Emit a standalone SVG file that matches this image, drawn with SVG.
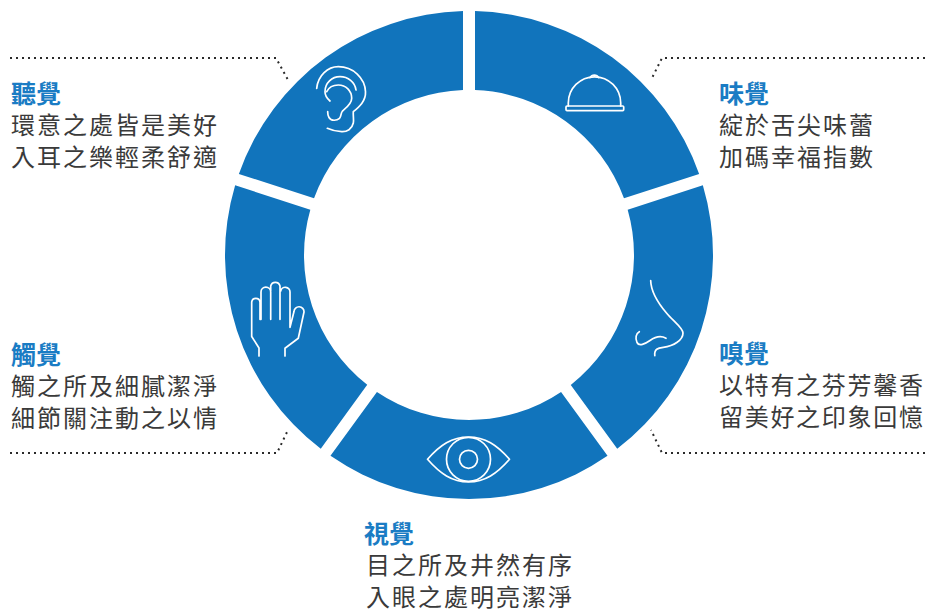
<svg xmlns="http://www.w3.org/2000/svg" width="925" height="613" viewBox="0 0 925 613">
<defs>
<path id="seg" d="M475 11.07A244 244 0 0 1 699.14 173.92L623.97 198.34A165 165 0 0 0 475 90.11Z"/>
</defs>
<style>
.seg{fill:#1174bc}
.ic{fill:none;stroke:#fff;stroke-width:1.7;stroke-linecap:round;stroke-linejoin:round}
.dot{fill:none;stroke:#2a2a2a;stroke-width:2;stroke-dasharray:2 4}
text{font-family:"Noto Sans CJK TC","Noto Sans",sans-serif}
.t{font-size:25px;font-weight:700;fill:#1a7cc4}
.b{font-size:24px;font-weight:400;fill:#3a3a3a;letter-spacing:2px}
.n{letter-spacing:1.7px}
</style>
<rect width="925" height="613" fill="#fff"/>
<g id="connectors">
<path class="dot" d="M10 58H276L288 80"/>
<path class="dot" d="M925 58H662L651 80"/>
<path class="dot" d="M10 453H277L288 430"/>
<path class="dot" d="M925 453H662L651 430"/>
</g>
<g id="taste">
<use href="#seg" class="seg"/>
<path class="ic" d="M568.3 106V103A26.2 26.2 0 0 1 620.7 103V106"/>
<rect class="ic" x="566" y="106" width="57.7" height="4.6" rx="1"/>
<path class="ic" d="M590 77.7A5 5 0 0 1 598.7 77.7"/>
<text class="t" x="719" y="102.500">味覺</text>
<text class="b" x="719" y="134">綻於舌尖味蕾</text>
<text class="b" x="719" y="166">加碼幸福指數</text>
</g>
<g id="smell">
<use href="#seg" class="seg" transform="rotate(72 469 255)"/>
<path class="ic" d="M650.7 280.7C651 292 658 303 666.7 313.3C673 321 683 328 683 333C683 340 674 346 663.3 347.3C658 348 654 349 654.8 355.7"/>
<path class="ic" d="M666 338.3C661 335.5 655 337 650 340.5C645 344 639 346.5 637 342.5C635 338 636 333.5 639.3 331.7"/>
<text class="t" x="719" y="362.500">嗅覺</text>
<text class="b n" x="719" y="394">以特有之芬芳馨香</text>
<text class="b n" x="719" y="426">留美好之印象回憶</text>
</g>
<g id="sight">
<use href="#seg" class="seg" transform="rotate(144 469 255)"/>
<path class="ic" d="M427.5 459.3C440 445 452 437 468.5 437C485 437 497 445 509.5 459.3C497 473.5 485 482 468.5 482C452 482 440 473.5 427.5 459.3Z"/>
<circle class="ic" cx="468.5" cy="459.3" r="22"/>
<circle class="ic" cx="468.5" cy="459.3" r="9"/>
<text class="t" x="364" y="542.500">視覺</text>
<text class="b" x="366" y="574">目之所及井然有序</text>
<text class="b" x="366" y="606">入眼之處明亮潔淨</text>
</g>
<g id="touch">
<use href="#seg" class="seg" transform="rotate(216 469 255)"/>
<path class="ic" d="M259 356V348L251.7 336.500V302A4.200 4.200 0 0 1 260 302V319.300M261 319.300V292A4.700 4.700 0 0 1 270.700 292V319.300M270.700 291V286A4.800 4.800 0 0 1 280 286V319.300M280.700 291A4.700 4.700 0 0 1 290 292V327.300L294 311.500A4.800 4.800 0 0 1 304 312L298.300 338.300L285 348.300V356"/>
<text class="t" x="11" y="363.500">觸覺</text>
<text class="b" x="11" y="395">觸之所及細膩潔淨</text>
<text class="b" x="11" y="427">細節關注動之以情</text>
</g>
<g id="hearing">
<use href="#seg" class="seg" transform="rotate(288 469 255)"/>
<path class="ic" d="M316.700 88.300C318 75 328 66.700 338.300 66.700C353 66.700 365 78 365.500 91.700C366 101 359 107 353.300 111.700C353 116 354 120 353.300 123C352 129 347 132 341.700 131.700C336 131.500 331 130 327.300 128.300"/>
<path class="ic" d="M330 101C326.500 98 325 95 325 91.700C325 83 332 76.700 340 76.700C348 76.700 355 82 356 90"/>
<path class="ic" d="M326.700 91.700C329 87 333 85 338.300 85C346 85 351.700 91 351.700 98.300C351.700 104 346 108 342.500 111C340.500 113 341.500 116.500 339.500 118.300C336.500 121 331 121 329 117.500C327.500 115 327.700 113 327.700 111.700"/>
<text class="t" x="11" y="102.500">聽覺</text>
<text class="b" x="11" y="134">環意之處皆是美好</text>
<text class="b" x="11" y="166">入耳之樂輕柔舒適</text>
</g>
</svg>
